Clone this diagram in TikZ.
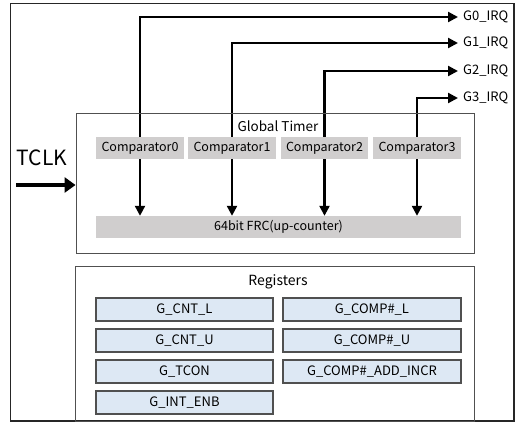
\documentclass[tikz,border=0pt]{standalone}
\usepackage{fontspec}
\setmainfont{Noto Sans CJK KR}
\usetikzlibrary{arrows.meta,backgrounds}
\definecolor{compgray}{HTML}{D0CECE}
\definecolor{regblue}{HTML}{DDE8F4}
\definecolor{edgegray}{HTML}{505050}
\tikzset{
  frame/.style={draw=edgegray, line width=0.9pt},
  comp/.style={fill=compgray, minimum height=22pt, inner sep=0pt, font=\fontsize{12.5}{15}\selectfont},
  reg/.style={draw=edgegray, line width=1.2pt, fill=regblue, minimum height=23pt, inner sep=0pt, font=\fontsize{13}{15}\selectfont},
  sig/.style={line width=2.3pt, -{Triangle[length=10pt,width=10pt]}},
  lbl/.style={font=\fontsize{13}{15}\selectfont, inner sep=0pt, anchor=west},
}
\begin{document}
\begin{tikzpicture}[x=1pt,y=-1pt]
\useasboundingbox (0,0) rectangle (517,423);
% outer frame
\draw[line width=1.2pt, draw=black!85] (10.5,3.5) rectangle (514,421);

% Global Timer block
\node[frame, minimum width=398pt, minimum height=140pt, inner sep=0pt] (gt) at (275,183) {};
\node[font=\fontsize{13.5}{15}\selectfont, inner sep=0pt] (gtt) at (278,126) {Global Timer};
\node[comp, minimum width=88pt] (c0) at (140,148) {Comparator0};
\node[comp, minimum width=88pt] (c1) at (232,148) {Comparator1};
\node[comp, minimum width=87pt] (c2) at (324.5,148) {Comparator2};
\node[comp, minimum width=88pt] (c3) at (417,148) {Comparator3};
\node[comp, minimum width=365pt] (frc) at (278.5,227) {64bit FRC(up-counter)};

% interrupt outputs
\node[lbl] (g0) at (463,17) {G0\_IRQ};
\node[lbl] (g1) at (463,43) {G1\_IRQ};
\node[lbl] (g2) at (463,71) {G2\_IRQ};
\node[lbl] (g3) at (463,98) {G3\_IRQ};

\begin{scope}[on background layer]
  \foreach \c/\g in {c0/g0,c1/g1,c2/g2,c3/g3}{
    \draw[sig, shorten >=5pt] (\c.center) |- (\g.west);
    \draw[sig] (\c.center) -- (\c |- frc.north);
  }
\end{scope}

% clock input
\node[font=\fontsize{21}{24}\selectfont, inner sep=0pt] (tclk) at (42,158) {TCLK};
\coordinate (tin) at (16,185);
\draw[line width=4pt, -{Triangle[length=11pt,width=15pt]}] (tin) -- (tin -| gt.west);

% register file
\node[frame, minimum width=399pt, minimum height=155pt, inner sep=0pt] (rg) at (274.5,343.5) {};
\node[font=\fontsize{14}{16}\selectfont, inner sep=0pt] (rgt) at (278,282) {Registers};
\node[reg, minimum width=177pt] (r1) at (184.5,309.5) {G\_CNT\_L};
\node[reg, minimum width=177pt] (r2) at (184.5,340.5) {G\_CNT\_U};
\node[reg, minimum width=177pt] (r3) at (184.5,371.5) {G\_TCON};
\node[reg, minimum width=177pt] (r4) at (184.5,402.5) {G\_INT\_ENB};
\node[reg, minimum width=178pt] (r5) at (372,309.5) {G\_COMP\#\_L};
\node[reg, minimum width=178pt] (r6) at (372,340.5) {G\_COMP\#\_U};
\node[reg, minimum width=178pt] (r7) at (372,371.5) {G\_COMP\#\_ADD\_INCR};
\end{tikzpicture}
\end{document}
